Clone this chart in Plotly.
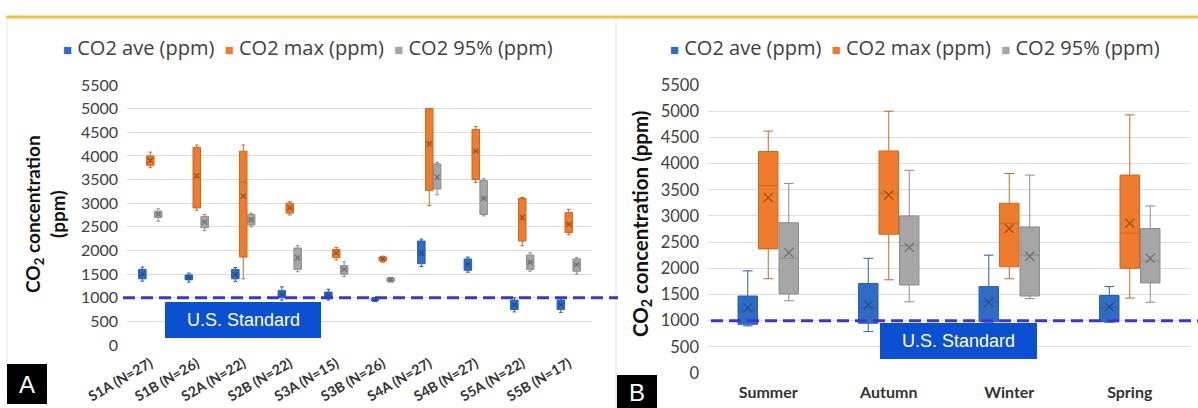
import plotly.graph_objects as go

# ---------------- data ----------------
sites = ["S1A (N=27)", "S1B (N=26)", "S2A (N=22)", "S2B (N=22)", "S3A (N=15)",
         "S3B (N=26)", "S4A (N=27)", "S4B (N=27)", "S5A (N=22)", "S5B (N=17)"]

site_ave_low = [1350, 1330, 1340, 950, 950, 920, 1660, 1540, 700, 690]
site_ave_q1 = [1400, 1380, 1400, 1000, 1000, 940, 1720, 1580, 750, 750]
site_ave_med = [1480, 1430, 1500, 1050, 1050, 960, 1900, 1700, 850, 850]
site_ave_q3 = [1600, 1480, 1600, 1150, 1120, 980, 2200, 1820, 950, 950]
site_ave_up = [1650, 1520, 1640, 1230, 1180, 1000, 2240, 1860, 1000, 1000]
site_ave_mean = [1500, 1430, 1490, 1070, 1060, 960, 1950, 1700, 850, 850]

site_max_low = [3750, 2850, 1400, 2750, 1800, 1750, 2950, 3440, 2100, 2330]
site_max_q1 = [3800, 2900, 1860, 2790, 1850, 1780, 3270, 3500, 2200, 2380]
site_max_med = [3950, 3550, 3450, 2900, 1950, 1820, 4300, 4100, 2650, 2550]
site_max_q3 = [4000, 4180, 4100, 3000, 2020, 1860, 5000, 4560, 3100, 2800]
site_max_up = [4080, 4230, 4230, 3030, 2060, 1880, 5000, 4620, 3120, 2870]
site_max_mean = [3900, 3580, 3150, 2900, 1950, 1820, 4250, 4100, 2700, 2550]

site_p95_low = [2620, 2420, 2500, 1550, 1450, 1330, 3180, 2730, 1560, 1500]
site_p95_q1 = [2700, 2480, 2540, 1600, 1500, 1350, 3300, 2760, 1600, 1560]
site_p95_med = [2780, 2600, 2650, 1800, 1600, 1380, 3500, 3100, 1750, 1700]
site_p95_q3 = [2830, 2720, 2760, 2050, 1680, 1410, 3830, 3480, 1900, 1820]
site_p95_up = [2880, 2760, 2790, 2100, 1760, 1430, 3860, 3520, 1950, 1850]
site_p95_mean = [2770, 2600, 2650, 1850, 1600, 1380, 3550, 3100, 1750, 1700]

seasons = ["Summer", "Autumn", "Winter", "Spring"]

sea_ave_low = [900, 790, 970, 970]
sea_ave_q1 = [930, 950, 980, 980]
sea_ave_med = [1200, 1250, 1360, 1250]
sea_ave_q3 = [1470, 1710, 1650, 1480]
sea_ave_up = [1950, 2190, 2250, 1650]
sea_ave_mean = [1250, 1300, 1350, 1260]

sea_max_low = [1800, 1780, 1800, 1430]
sea_max_q1 = [2370, 2650, 2030, 2000]
sea_max_med = [3580, 3430, 2860, 2670]
sea_max_q3 = [4230, 4240, 3240, 3780]
sea_max_up = [4620, 5000, 3810, 4930]
sea_max_mean = [3350, 3400, 2760, 2860]

sea_p95_low = [1380, 1360, 1420, 1350]
sea_p95_q1 = [1510, 1680, 1470, 1720]
sea_p95_med = [2190, 2430, 2250, 2140]
sea_p95_q3 = [2870, 3000, 2790, 2760]
sea_p95_up = [3620, 3870, 3780, 3190]
sea_p95_mean = [2300, 2400, 2230, 2190]

series_names = ["CO2 ave (ppm)", "CO2 max (ppm)", "CO2 95% (ppm)"]
us_standard = 1000
y_ticks = list(range(0, 5501, 500))

# ---------------- styling ----------------
W, H = 1198, 408
FILL = ["#2F6DC5", "#EF7B2D", "#A6A6A6"]
EDGE = ["#2A5FAE", "#C8691F", "#8C8C8C"]
MEANC = ["#1F4E8C", "#9A4E14", "#6E6E6E"]


def px(x):
    return x / W


def py(y):
    return 1 - y / H


fig = go.Figure()

site_sets = [
    (site_ave_low, site_ave_q1, site_ave_med, site_ave_q3, site_ave_up, site_ave_mean),
    (site_max_low, site_max_q1, site_max_med, site_max_q3, site_max_up, site_max_mean),
    (site_p95_low, site_p95_q1, site_p95_med, site_p95_q3, site_p95_up, site_p95_mean),
]
sea_sets = [
    (sea_ave_low, sea_ave_q1, sea_ave_med, sea_ave_q3, sea_ave_up, sea_ave_mean),
    (sea_max_low, sea_max_q1, sea_max_med, sea_max_q3, sea_max_up, sea_max_mean),
    (sea_p95_low, sea_p95_q1, sea_p95_med, sea_p95_q3, sea_p95_up, sea_p95_mean),
]

for cats, sets, xa, ya, msize in [(sites, site_sets, "x", "y", 5), (seasons, sea_sets, "x2", "y2", 9)]:
    for i, (lo, q1, med, q3, up, mean) in enumerate(sets):
        fig.add_trace(go.Box(
            x=cats, lowerfence=lo, q1=q1, median=med, q3=q3, upperfence=up,
            name=series_names[i], xaxis=xa, yaxis=ya,
            fillcolor=FILL[i], line=dict(color=EDGE[i], width=1),
            whiskerwidth=0.5, boxpoints=False, showlegend=False,
            offsetgroup=str(i), alignmentgroup=xa,
        ))
    for i, (lo, q1, med, q3, up, mean) in enumerate(sets):
        fig.add_trace(go.Scatter(
            x=cats, y=mean, mode="markers", xaxis=xa, yaxis=ya,
            marker=dict(symbol="x-thin", size=msize,
                        line=dict(color=MEANC[i], width=1.2)),
            showlegend=False, hoverinfo="skip",
            offsetgroup=str(i), alignmentgroup=xa,
        ))

grid = "#DCDCDC"

fig.update_layout(
    width=W, height=H,
    margin=dict(l=0, r=0, t=0, b=0, autoexpand=False),
    paper_bgcolor="white", plot_bgcolor="white",
    boxmode="group", boxgap=0.49, boxgroupgap=0.05,
    scattermode="group", scattergap=0.49,
    xaxis=dict(domain=[px(127), px(592)], type="category", showgrid=False,
               tickangle=-30, ticks="", showline=False, zeroline=False,
               automargin=False, ticklabelstandoff=7,
               tickfont=dict(family="Lato", size=14, color="#333333", weight="bold"),
               anchor="y"),
    yaxis=dict(domain=[py(345), py(85)], range=[0, 5500], tickvals=y_ticks,
               showgrid=True, gridcolor=grid, gridwidth=1, zeroline=False,
               automargin=False, ticks="", ticklabelstandoff=8,
               tickfont=dict(family="Lato", size=16, color="#404040"), anchor="x"),
    xaxis2=dict(domain=[px(708), px(1190)], type="category", showgrid=False,
                ticks="", showline=False, zeroline=False, automargin=False,
                ticklabelstandoff=8,
                tickfont=dict(family="Lato", size=16, color="#333333", weight="bold"),
                anchor="y2"),
    yaxis2=dict(domain=[py(373), py(85)], range=[0, 5500], tickvals=y_ticks,
                showgrid=True, gridcolor=grid, gridwidth=1, zeroline=False,
                automargin=False, ticks="", ticklabelstandoff=8,
                tickfont=dict(family="Lato", size=16.5, color="#404040"), anchor="x2"),
)

shapes = []
# golden top rule
shapes.append(dict(type="line", xref="paper", yref="paper", x0=px(6), x1=1,
                   y0=py(17), y1=py(17), line=dict(color="#EEC24E", width=3)))
# panel borders
shapes.append(dict(type="line", xref="paper", yref="paper", x0=px(7), x1=px(7),
                   y0=py(19), y1=py(396), line=dict(color="#E6E6E6", width=1)))
shapes.append(dict(type="line", xref="paper", yref="paper", x0=px(616), x1=px(616),
                   y0=py(19), y1=0, line=dict(color="#E3E3E3", width=1)))
# U.S. standard dashed lines
shapes.append(dict(type="line", xref="paper", yref="y", x0=px(123), x1=px(618),
                   y0=us_standard, y1=us_standard, layer="above",
                   line=dict(color="#3B35D2", width=3, dash="12px,6px")))
shapes.append(dict(type="line", xref="paper", yref="y2", x0=px(711), x1=1,
                   y0=us_standard, y1=us_standard, layer="above",
                   line=dict(color="#3B35D2", width=3, dash="12px,6px")))
# U.S. standard label boxes
shapes.append(dict(type="rect", xref="paper", yref="paper", x0=px(165), x1=px(321),
                   y0=py(338), y1=py(302), fillcolor="#0B50D0", line=dict(width=0),
                   layer="above"))
shapes.append(dict(type="rect", xref="paper", yref="paper", x0=px(880), x1=px(1037),
                   y0=py(359), y1=py(323), fillcolor="#0B50D0", line=dict(width=0),
                   layer="above"))
# panel letter boxes
shapes.append(dict(type="rect", xref="paper", yref="paper", x0=px(7), x1=px(47),
                   y0=py(404), y1=py(364), fillcolor="black", line=dict(width=0)))
shapes.append(dict(type="rect", xref="paper", yref="paper", x0=px(617), x1=px(657),
                   y0=0, y1=py(375), fillcolor="black", line=dict(width=0)))
fig.update_layout(shapes=shapes)

sq = "<span style='color:%s;font-size:15px'>■</span>"
legend_text = (sq + " %s  " + sq + " %s  " + sq + " %s") % (
    FILL[0], series_names[0], FILL[1], series_names[1], FILL[2], series_names[2])
legfont = dict(family="Open Sans", size=20, color="#404040")

ann = [
    dict(text=legend_text, x=px(308), y=py(47), xref="paper", yref="paper",
         showarrow=False, font=legfont, xanchor="center", yanchor="middle"),
    dict(text=legend_text, x=px(915), y=py(47), xref="paper", yref="paper",
         showarrow=False, font=legfont, xanchor="center", yanchor="middle"),
    dict(text="CO<sub>2</sub> concentration<br>(ppm)", x=px(45), y=py(214),
         xref="paper", yref="paper", showarrow=False, textangle=-90,
         font=dict(family="Lato", size=19, color="#111111", weight="bold"),
         xanchor="center", yanchor="middle"),
    dict(text="CO<sub>2</sub> concentration (ppm)", x=px(641), y=py(224),
         xref="paper", yref="paper", showarrow=False, textangle=-90,
         font=dict(family="Lato", size=20.5, color="#111111", weight="bold"),
         xanchor="center", yanchor="middle"),
    dict(text="U.S. Standard", x=px(243), y=py(320), xref="paper", yref="paper",
         showarrow=False, font=dict(family="Liberation Sans", size=18, color="white"),
         xanchor="center", yanchor="middle"),
    dict(text="U.S. Standard", x=px(958), y=py(341), xref="paper", yref="paper",
         showarrow=False, font=dict(family="Liberation Sans", size=18, color="white"),
         xanchor="center", yanchor="middle"),
    dict(text="A", x=px(27), y=py(384), xref="paper", yref="paper", showarrow=False,
         font=dict(family="Liberation Sans", size=24, color="white"),
         xanchor="center", yanchor="middle"),
    dict(text="B", x=px(637), y=py(392), xref="paper", yref="paper", showarrow=False,
         font=dict(family="Liberation Sans", size=24, color="white"),
         xanchor="center", yanchor="middle"),
]
fig.update_layout(annotations=ann)

fig.write_html("out.html")
